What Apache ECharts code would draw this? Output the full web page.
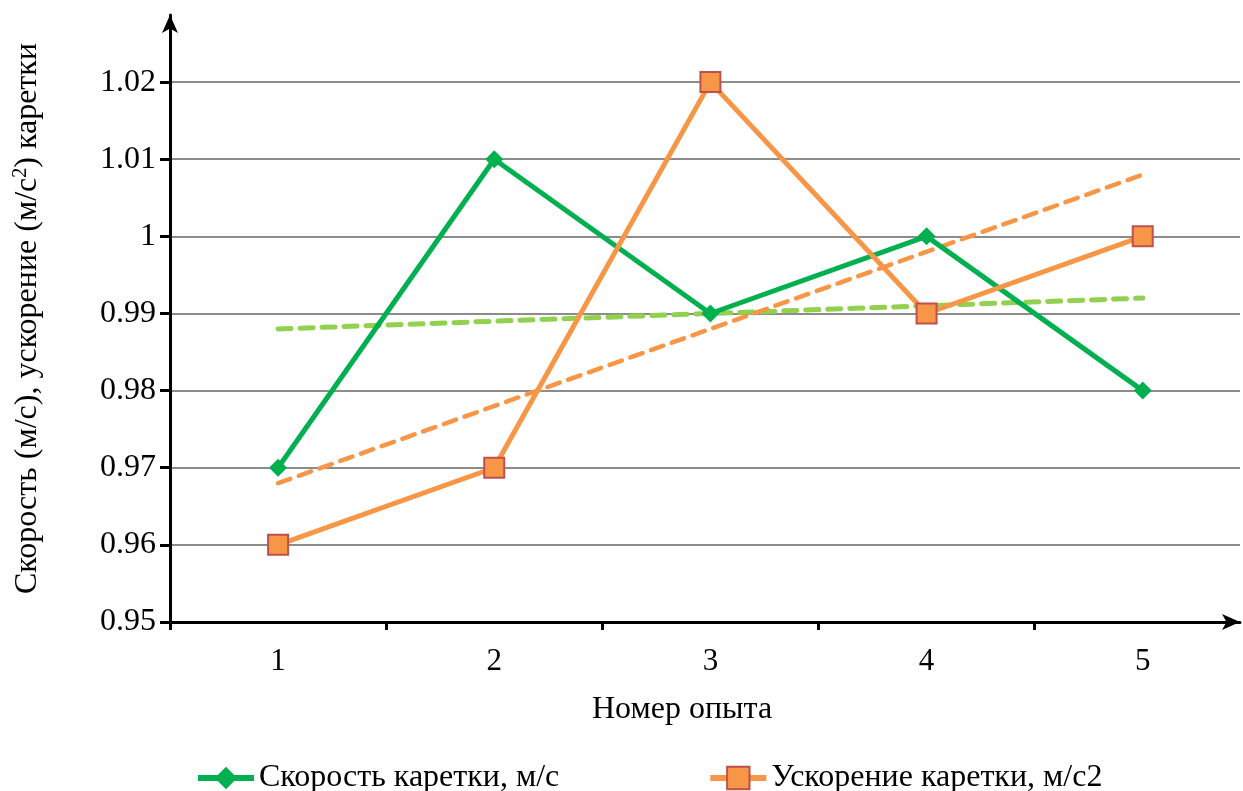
<!DOCTYPE html>
<html><head><meta charset="utf-8">
<script src="https://cdn.jsdelivr.net/npm/echarts@6/dist/echarts.min.js"></script>
<style>html,body{margin:0;padding:0;background:#fff}#c{width:1243px;height:791px}</style>
</head><body><div id="c"></div>
<script>
const experiments = [1, 2, 3, 4, 5];
const speed = [0.97, 1.01, 0.99, 1.00, 0.98];
const accel = [0.96, 0.97, 1.02, 0.99, 1.00];
const speedTrend = [0.988, 0.992];
const accelTrend = [0.968, 1.008];
const yTicks = [0.95, 0.96, 0.97, 0.98, 0.99, 1.00, 1.01, 1.02];
const xTicks = [0.5, 1.5, 2.5, 3.5, 4.5];
const yLabels = ['0.95', '0.96', '0.97', '0.98', '0.99', '1', '1.01', '1.02'];

const font = '"Liberation Serif", "Times New Roman", serif';
const chart = echarts.init(document.getElementById('c'));
chart.setOption({
  animation: false,
  textStyle: { fontFamily: font },
  grid: { left: 170, right: 3, top: 15, bottom: 169 },
  legend: {
    bottom: -8, left: 190,
    itemWidth: 56, itemHeight: 28, itemGap: 148,
    textStyle: { fontFamily: font, fontSize: 32, color: '#000' },
    data: [
      { name: 'Скорость каретки, м/с', lineStyle: { width: 6, color: '#00B050' } },
      { name: 'Ускорение каретки, м/с2', lineStyle: { width: 6, color: '#F79646' } }
    ]
  },
  xAxis: {
    type: 'value', min: 0.5, max: 5.45,
    name: 'Номер опыта', nameLocation: 'middle', nameGap: 72,
    nameTextStyle: { fontFamily: font, fontSize: 32, color: '#000', padding: [0, 46, 0, 0] },
    axisLine: { show: true, lineStyle: { color: '#000', width: 3 }, symbol: ['none', 'arrow'], symbolSize: [12, 18], symbolOffset: [0, 0] },
    axisTick: { show: true, inside: false, length: 8, lineStyle: { color: '#000', width: 3 }, customValues: xTicks },
    axisLabel: { customValues: experiments, margin: 24, fontFamily: font, fontSize: 31, color: '#000', formatter: v => String(Math.round(v)) },
    splitLine: { show: false }
  },
  yAxis: {
    type: 'value', min: 0.95, max: 1.0287,
    name: 'Скорость (м/с), ускорение (м/с{sup|2}) каретки',
    nameLocation: 'middle', nameGap: 125, nameRotate: 90,
    nameTextStyle: { fontFamily: font, fontSize: 32, color: '#000',
      rich: { sup: { fontFamily: font, fontSize: 20, color: '#000', verticalAlign: 'top', padding: [0, 0, 14, 0] } } },
    axisLine: { show: true, lineStyle: { color: '#000', width: 3 }, symbol: ['none', 'arrow'], symbolSize: [12, 18] },
    axisTick: { show: true, length: 10, lineStyle: { color: '#000', width: 3 }, customValues: yTicks },
    axisLabel: { customValues: yTicks, margin: 14, fontFamily: font, fontSize: 32, color: '#000',
      formatter: v => yLabels[yTicks.findIndex(t => Math.abs(t - v) < 1e-6)] },
    splitLine: { show: true, lineStyle: { color: '#8c8c8c', width: 2 } }
  },
  series: [
    {
      name: 'Скорость каретки, м/с', type: 'line', z: 3,
      data: experiments.map((x, i) => [x, speed[i]]),
      lineStyle: { color: '#00B050', width: 5 },
      itemStyle: { color: '#00B050' },
      symbol: 'diamond', symbolSize: 18, showSymbol: true
    },
    {
      name: 'Ускорение каретки, м/с2', type: 'line', z: 4,
      data: experiments.map((x, i) => [x, accel[i]]),
      lineStyle: { color: '#F79646', width: 5 },
      itemStyle: { color: '#F79646', borderColor: '#C0504D', borderWidth: 2 },
      symbol: 'rect', symbolSize: 20, showSymbol: true
    },
    {
      name: 'trend speed', type: 'line', z: 2, silent: true,
      data: [[experiments[0], speedTrend[0]], [experiments[4], speedTrend[1]]],
      lineStyle: { color: '#92D050', width: 5, type: [13, 9], cap: 'round' },
      symbol: 'none'
    },
    {
      name: 'trend accel', type: 'line', z: 2, silent: true,
      data: [[experiments[0], accelTrend[0]], [experiments[4], accelTrend[1]]],
      lineStyle: { color: '#F79646', width: 4.5, type: [13, 9], cap: 'round' },
      symbol: 'none'
    }
  ]
});
</script>
</body></html>
